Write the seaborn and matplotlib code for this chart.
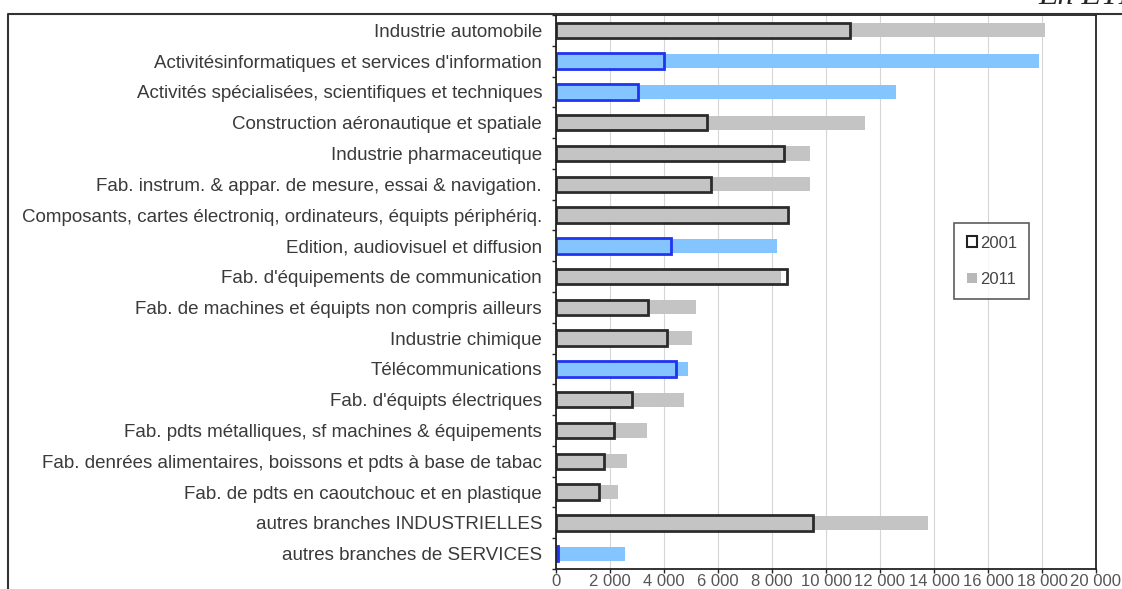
import pandas as pd
import seaborn as sns
import matplotlib.pyplot as plt
from matplotlib.lines import Line2D
from matplotlib.patches import Patch
from matplotlib.ticker import FuncFormatter

# data (ETP)
branches = [
    "Industrie automobile",
    "Activitésinformatiques et services d'information",
    "Activités spécialisées, scientifiques et techniques",
    "Construction aéronautique et spatiale",
    "Industrie pharmaceutique",
    "Fab. instrum. & appar. de mesure, essai & navigation.",
    "Composants, cartes électroniq, ordinateurs, équipts périphériq.",
    "Edition, audiovisuel et diffusion",
    "Fab. d'équipements de communication",
    "Fab. de machines et équipts non compris ailleurs",
    "Industrie chimique",
    "Télécommunications",
    "Fab. d'équipts électriques",
    "Fab. pdts métalliques, sf machines & équipements",
    "Fab. denrées alimentaires, boissons et pdts à base de tabac",
    "Fab. de pdts en caoutchouc et en plastique",
    "autres branches INDUSTRIELLES",
    "autres branches de SERVICES",
]
services = [False, True, True, False, False, False, False, True, False,
            False, False, True, False, False, False, False, False, True]
etp_2001 = [10900, 4000, 3050, 5600, 8450, 5750, 8600, 4250, 8570,
            3400, 4100, 4430, 2800, 2130, 1760, 1600, 9530, 80]
etp_2011 = [18100, 17900, 12600, 11450, 9400, 9400, 8550, 8200, 8350,
            5200, 5050, 4880, 4750, 3380, 2620, 2300, 13780, 2560]
years = ["2001", "2011"]

sns.set_theme(style="white")
plt.rcParams["font.family"] = ["Liberation Sans", "DejaVu Sans"]

df = pd.DataFrame({"branche": branches, "e2001": etp_2001,
                   "e2011": etp_2011, "services": services})

fill_cols = ["#84c4ff" if s else "#c4c4c4" for s in services]
edge_cols = ["#1f33f0" if s else "#2b2b2b" for s in services]

W, H = 1122, 589
fig = plt.figure(figsize=(W / 100, H / 100), dpi=100)
ax = fig.add_axes([556 / W, 1 - 569 / H, 540 / W, 554 / H])

# 2011 behind, filled
sns.barplot(data=df, x="e2011", y="branche", hue="branche", palette=fill_cols,
            width=0.46, dodge=False, legend=False, saturation=1, linewidth=0,
            errorbar=None, ax=ax)
# 2001 on top, outline only
sns.barplot(data=df, x="e2001", y="branche", hue="branche", palette=edge_cols,
            width=0.5, dodge=False, legend=False, saturation=1, fill=False,
            linewidth=2, errorbar=None, ax=ax)

ax.set_xlim(0, 20000)
ax.set_ylim(len(branches) - 0.5, -0.5)
ax.set_xticks(range(0, 20001, 2000))
ax.xaxis.set_major_formatter(FuncFormatter(lambda v, p: f"{int(v):,}".replace(",", " ")))
ax.set_xlabel("")
ax.set_ylabel("")
ax.grid(axis="x", color="#d6d6d6", lw=0.8)
ax.set_axisbelow(True)

ax.set_yticks([i - 0.5 for i in range(len(branches) + 1)], minor=True)
ax.tick_params(axis="y", which="major", length=0, pad=10, labelsize=13.5, labelcolor="#3a3a3a")
ax.tick_params(axis="y", which="minor", length=3, width=1, color="#222", direction="out", left=True)
ax.tick_params(axis="x", which="major", length=3, width=1, color="#222", direction="out",
               bottom=True, pad=0.5, labelsize=12, labelcolor="#555555")
for s in ax.spines.values():
    s.set_color("#222222")
    s.set_linewidth(1.3)

handles = [Patch(facecolor="none", edgecolor="#222222", lw=1.5),
           Patch(facecolor="#b8b8b8", edgecolor="none")]
leg = ax.legend(handles, years, loc="upper left",
                bbox_to_anchor=(954 / W, 1 - 223 / H), bbox_transform=fig.transFigure,
                borderaxespad=0, fontsize=12, handlelength=0.6, handleheight=0.6,
                handletextpad=0.2, borderpad=0.75, labelspacing=1.28,
                fancybox=False, frameon=True)
leg.get_frame().set_edgecolor("#333333")
leg.get_frame().set_linewidth(1.2)
for t in leg.get_texts():
    t.set_color("#444444")

# outer chart frame and cut-off unit note
fig.add_artist(Line2D([8 / W, 8 / W, 1.0], [0, 1 - 14 / H, 1 - 14 / H],
                      transform=fig.transFigure, color="#333333", lw=1.5))
fig.text(1038 / W, 1 - 4 / H, "En ETP", fontsize=23, style="italic",
         family="Liberation Serif", va="baseline", ha="left")

fig.savefig("out.png", dpi=100)
